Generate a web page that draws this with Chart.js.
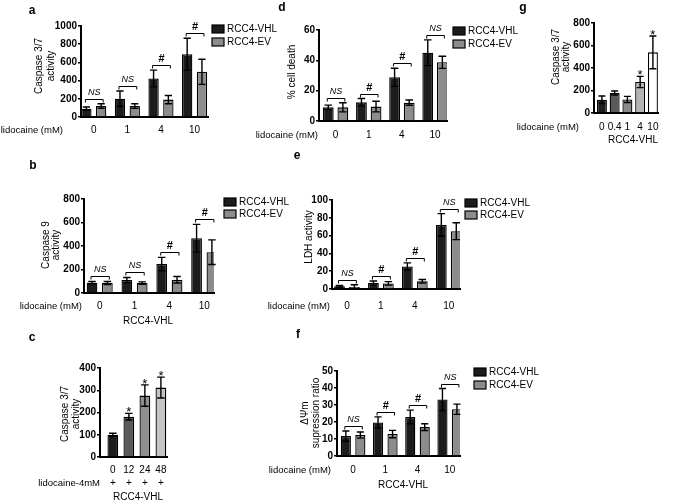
<!DOCTYPE html>
<html>
<head>
<meta charset="utf-8">
<script src="https://cdn.jsdelivr.net/npm/chart.js@4"></script>
<style>
  html, body { margin: 0; padding: 0; background: #fff; }
  #wrap { position: relative; width: 675px; height: 503px; overflow: hidden; background: #fff; }
  #wrap canvas { position: absolute; left: 0; top: 0; }
</style>
</head>
<body>
<div id="wrap"></div>
<script>
const doseLabels  = ['0', '1', '4', '10'];
const seriesNames = ['RCC4-VHL', 'RCC4-EV'];

// a - caspase 3/7 activity
const aVhl    = [92, 200, 423, 690];
const aVhlErr = [18, 85, 92, 175];
const aEv     = [121, 121, 191, 496];
const aEvErr  = [25, 25, 45, 138];
const aSig    = ['NS', 'NS', '#', '#'];

// b - caspase 9 activity
const bVhl    = [88, 110, 246, 466];
const bVhlErr = [10, 22, 57, 118];
const bEv     = [85, 85, 113, 347];
const bEvErr  = [13, 10, 28, 105];
const bSig    = ['NS', 'NS', '#', '#'];

// c - caspase 3/7, lidocaine 4mM over time
const cHours  = ['0', '12', '24', '48'];
const cVals   = [100, 181, 276, 312];
const cErr    = [7, 15, 48, 47];
const cSig    = ['', '*', '*', '*'];

// d - % cell death
const dVhl    = [9, 12.3, 28.8, 45];
const dVhlErr = [1.5, 2.5, 6, 8.5];
const dEv     = [9, 9.5, 12.1, 38.7];
const dEvErr  = [3, 3.5, 1.7, 4];
const dSig    = ['NS', '#', '#', 'NS'];

// e - LDH activity
const eVhl    = [3, 6.7, 25.4, 72];
const eVhlErr = [1, 2.3, 4, 12.7];
const eEv     = [2.2, 6.3, 8.6, 65];
const eEvErr  = [2.5, 2, 2, 9.5];
const eSig    = ['NS', '#', '#', 'NS'];

// f - mitochondrial potential suppression
const fVhl    = [11.7, 19.7, 23, 33.2];
const fVhlErr = [3, 3.3, 4, 6.5];
const fEv     = [12.3, 12.9, 17, 27.5];
const fEvErr  = [1.8, 2.2, 2, 3];
const fSig    = ['NS', '#', '#', 'NS'];

// g - caspase 3/7, RCC4-VHL dose
const gDoses  = ['0', '0.4', '1', '4', '10'];
const gVals   = [118, 178, 121, 276, 539];
const gErr    = [33, 18, 27, 50, 145];
const gSig    = ['', '', '', '*', '*'];

const FONT = '"Liberation Sans", Arial, Helvetica, sans-serif';
const VHL_COLOR = '#1c1c1c';
const EV_COLOR  = '#8c8c8c';
const SHADES_C  = ['#1c1c1c', '#5a5a5a', '#8f8f8f', '#c4c4c4'];
const SHADES_G  = ['#1c1c1c', '#5a5a5a', '#8a8a8a', '#b4b4b4', '#ffffff'];

Chart.defaults.font.family = FONT;
Chart.defaults.color = '#000';

const wrap = document.getElementById('wrap');

function put(ctx, s, x, y, font, align = 'center') {
  ctx.font = font;
  ctx.textAlign = align;
  ctx.textBaseline = 'middle';
  ctx.fillText(s, x, y);
}

const pair = (vhl, vhlErr, ev, evErr) => [
  { label: seriesNames[0], data: vhl, err: vhlErr, backgroundColor: VHL_COLOR },
  { label: seriesNames[1], data: ev,  err: evErr,  backgroundColor: EV_COLOR }
];

function decor(p) {
  return {
    id: 'decor',
    afterDatasetsDraw(chart) {
      const ctx = chart.ctx, ys = chart.scales.y;
      ctx.save();
      ctx.strokeStyle = '#000';
      ctx.lineWidth = 1.4;
      chart.data.datasets.forEach((ds, i) => {
        chart.getDatasetMeta(i).data.forEach((bar, j) => {
          const top = ys.getPixelForValue(ds.data[j] + ds.err[j]);
          const bot = ys.getPixelForValue(Math.max(0, ds.data[j] - ds.err[j]));
          const cw  = bar.width * 0.35;
          ctx.beginPath();
          ctx.moveTo(bar.x, top);      ctx.lineTo(bar.x, bot);
          ctx.moveTo(bar.x - cw, top); ctx.lineTo(bar.x + cw, top);
          ctx.moveTo(bar.x - cw, bot); ctx.lineTo(bar.x + cw, bot);
          ctx.stroke();
        });
      });
      ctx.restore();
    },
    afterDraw(chart) {
      const ctx = chart.ctx, ys = chart.scales.y;
      const sets  = chart.data.datasets;
      const metas = sets.map((d, i) => chart.getDatasetMeta(i));
      const errTop = (i, j) => ys.getPixelForValue(sets[i].data[j] + sets[i].err[j]);
      ctx.save();
      ctx.fillStyle = '#000';
      ctx.strokeStyle = '#000';

      put(ctx, p.letter, p.letterX, p.letterY, 'bold 12px ' + FONT);

      // rotated y title
      p.yTitle.forEach((t, k) => {
        ctx.save();
        ctx.translate(p.yTitleX[k], p.yTitleY);
        ctx.rotate(-Math.PI / 2);
        put(ctx, t, 0, 0, '10px ' + FONT);
        ctx.restore();
      });

      put(ctx, p.xLabel, p.xLabelRight, p.xLabelY, '9.5px ' + FONT, 'right');
      if (p.sub) put(ctx, p.sub, p.subX, p.subY, '10px ' + FONT);
      if (p.plusY) metas[0].data.forEach(bar => put(ctx, '+', bar.x, p.plusY, '10px ' + FONT));

      // significance marks
      p.sig.forEach((s, j) => {
        if (!s) return;
        if (metas.length === 2) {
          const x1 = metas[0].data[j].x - 1, x2 = metas[1].data[j].x + 2;
          const by = Math.round(Math.min(errTop(0, j), errTop(1, j)) - 5) + 0.5;
          ctx.lineWidth = 1;
          ctx.beginPath();
          ctx.moveTo(x1, by + 3); ctx.lineTo(x1, by); ctx.lineTo(x2, by); ctx.lineTo(x2, by + 3);
          ctx.stroke();
          put(ctx, s, (x1 + x2) / 2, by - 7, s === 'NS' ? 'italic 9px ' + FONT : 'bold 11px ' + FONT);
        } else {
          ctx.font = '13px ' + FONT;
          ctx.textAlign = 'center';
          ctx.textBaseline = 'alphabetic';
          ctx.fillText(s, metas[0].data[j].x, errTop(0, j) + 3);
        }
      });

      // legend
      if (p.legendX) sets.forEach((ds, i) => {
        const y = p.legendY[i];
        ctx.fillStyle = ds.backgroundColor;
        ctx.fillRect(p.legendX, y - 4, 12, 8);
        ctx.lineWidth = 1.2;
        ctx.strokeRect(p.legendX, y - 4, 12, 8);
        ctx.fillStyle = '#000';
        put(ctx, ds.label, p.legendX + 15, y, '10px ' + FONT, 'left');
      });
      ctx.restore();
    }
  };
}

function makePanel(p) {
  const cv = document.createElement('canvas');
  cv.width = 675; cv.height = 503;
  cv.style.width = '675px'; cv.style.height = '503px';
  wrap.appendChild(cv);
  const [L, T, R, B] = p.area;
  const yW = 30, xH = 34;
  new Chart(cv, {
    type: 'bar',
    data: { labels: p.labels, datasets: p.sets },
    options: {
      responsive: false,
      animation: false,
      devicePixelRatio: 1,
      layout: { padding: { left: L - yW, top: T, right: 675 - R, bottom: 503 - B - xH } },
      plugins: { legend: { display: false }, tooltip: { enabled: false } },
      datasets: { bar: { categoryPercentage: p.cat, barPercentage: p.bar, borderColor: '#000', borderWidth: 1.3 } },
      scales: {
        x: {
          grid: { display: false, drawTicks: false },
          border: { color: '#000', width: 2 },
          ticks: { font: { size: 10 }, padding: p.tickY - B - 6, maxRotation: 0, autoSkip: false },
          // GraphPad-style gaps between the axes and the outer groups
          afterBuildTicks: s => {
            s._startValue = -p.xEdge[0];
            s._valueRange = p.labels.length - 1 + p.xEdge[0] + p.xEdge[1];
          },
          afterFit: s => { s.height = xH; }
        },
        y: {
          min: 0,
          max: p.yMax,
          grid: { drawOnChartArea: false, color: '#000', lineWidth: 1.5, tickLength: 3 },
          border: { color: '#000', width: 2 },
          ticks: { stepSize: p.yStep, font: { size: 10, weight: 'bold' }, padding: 1, callback: v => String(v) },
          afterFit: s => { s.width = yW; }
        }
      }
    },
    plugins: [decor(p)]
  });
}

makePanel({
  labels: doseLabels, sets: pair(aVhl, aVhlErr, aEv, aEvErr), sig: aSig,
  area: [81, 26, 208, 117], xEdge: [0.38, 0.4], yMax: 1000, yStep: 200, cat: 0.88, bar: 0.7, tickY: 130,
  letter: 'a', letterX: 32, letterY: 11,
  yTitle: ['Caspase 3/7', 'activity'], yTitleX: [39, 51], yTitleY: 66,
  xLabel: 'lidocaine (mM)', xLabelRight: 63, xLabelY: 130,
  legendX: 212, legendY: [29, 42]
});

makePanel({
  labels: doseLabels, sets: pair(bVhl, bVhlErr, bEv, bEvErr), sig: bSig,
  area: [84, 199, 214, 293], xEdge: [0.45, 0.28], yMax: 800, yStep: 200, cat: 0.88, bar: 0.7, tickY: 306,
  letter: 'b', letterX: 33, letterY: 166,
  yTitle: ['Caspase 9', 'activity'], yTitleX: [46, 56], yTitleY: 245,
  xLabel: 'lidocaine (mM)', xLabelRight: 82, xLabelY: 306,
  sub: 'RCC4-VHL', subX: 148, subY: 321,
  legendX: 224, legendY: [202, 214]
});

makePanel({
  labels: cHours,
  sets: [{ label: 'RCC4-VHL', data: cVals, err: cErr, backgroundColor: SHADES_C }],
  sig: cSig,
  area: [100, 368, 167, 457], xEdge: [0.8, 0.38], yMax: 400, yStep: 100, cat: 0.82, bar: 0.82, tickY: 470,
  letter: 'c', letterX: 32, letterY: 338,
  yTitle: ['Caspase 3/7', 'activity'], yTitleX: [65, 76], yTitleY: 414,
  xLabel: 'lidocaine-4mM', xLabelRight: 100, xLabelY: 483, plusY: 483,
  sub: 'RCC4-VHL', subX: 138, subY: 497
});

makePanel({
  labels: doseLabels, sets: pair(dVhl, dVhlErr, dEv, dEvErr), sig: dSig,
  area: [319, 30, 447, 121], xEdge: [0.5, 0.36], yMax: 60, yStep: 20, cat: 0.88, bar: 0.74, tickY: 135,
  letter: 'd', letterX: 282, letterY: 8,
  yTitle: ['% cell death'], yTitleX: [292], yTitleY: 72,
  xLabel: 'lidocaine (mM)', xLabelRight: 318, xLabelY: 135,
  legendX: 453, legendY: [31, 44]
});

makePanel({
  labels: doseLabels, sets: pair(eVhl, eVhlErr, eEv, eEvErr), sig: eSig,
  area: [332, 200, 460, 289], xEdge: [0.44, 0.33], yMax: 100, yStep: 20, cat: 0.88, bar: 0.72, tickY: 306,
  letter: 'e', letterX: 297, letterY: 156,
  yTitle: ['LDH activity'], yTitleX: [309], yTitleY: 237,
  xLabel: 'lidocaine (mM)', xLabelRight: 330, xLabelY: 306,
  legendX: 465, legendY: [203, 215]
});

makePanel({
  labels: doseLabels, sets: pair(fVhl, fVhlErr, fEv, fEvErr), sig: fSig,
  area: [337, 371, 460, 456], xEdge: [0.5, 0.32], yMax: 50, yStep: 10, cat: 0.9, bar: 0.7, tickY: 470,
  letter: 'f', letterX: 298, letterY: 335,
  yTitle: ['ΔΨm', 'supression ratio'], yTitleX: [305, 316], yTitleY: 413,
  xLabel: 'lidocaine (mM)', xLabelRight: 331, xLabelY: 470,
  sub: 'RCC4-VHL', subX: 403, subY: 485,
  legendX: 474, legendY: [372, 385]
});

makePanel({
  labels: gDoses,
  sets: [{ label: 'RCC4-VHL', data: gVals, err: gErr, backgroundColor: SHADES_G }],
  sig: gSig,
  area: [594, 23, 658, 113], xEdge: [0.62, 0.4], yMax: 800, yStep: 200, cat: 0.9, bar: 0.87, tickY: 127,
  letter: 'g', letterX: 523, letterY: 8,
  yTitle: ['Caspase 3/7', 'activity'], yTitleX: [556, 566], yTitleY: 57,
  xLabel: 'lidocaine (mM)', xLabelRight: 579, xLabelY: 127,
  sub: 'RCC4-VHL', subX: 633, subY: 140
});
</script>
</body>
</html>
